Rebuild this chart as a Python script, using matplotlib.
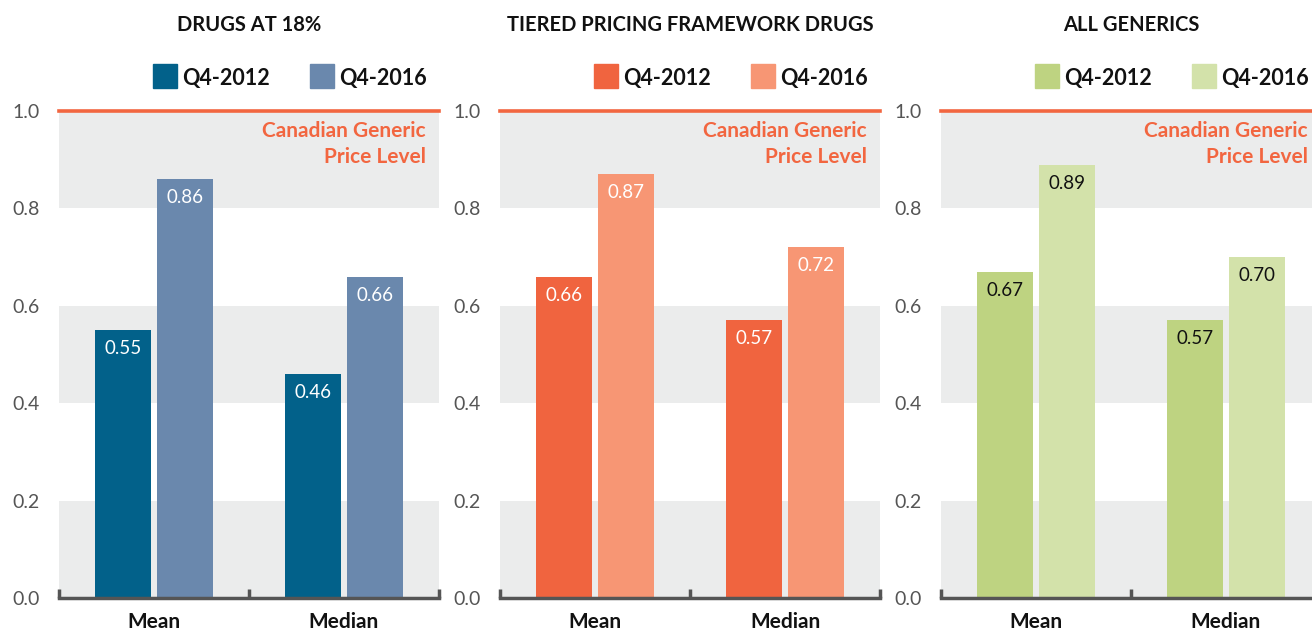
import matplotlib
matplotlib.use("Agg")
import matplotlib.pyplot as plt
from matplotlib.patches import Rectangle
import numpy as np

plt.rcParams['font.family'] = ['Lato', 'DejaVu Sans']

titles = ["DRUGS AT 18%", "TIERED PRICING FRAMEWORK DRUGS", "ALL GENERICS"]
categories = ["Mean", "Median"]
series_names = ["Q4-2012", "Q4-2016"]
drugs18_2012 = [0.55, 0.46]
drugs18_2016 = [0.86, 0.66]
tiered_2012 = [0.66, 0.57]
tiered_2016 = [0.87, 0.72]
generics_2012 = [0.67, 0.57]
generics_2016 = [0.89, 0.70]
value_labels = [
    (["0.55", "0.46"], ["0.86", "0.66"]),
    (["0.66", "0.57"], ["0.87", "0.72"]),
    (["0.67", "0.57"], ["0.89", "0.70"]),
]
yticks = [0.0, 0.2, 0.4, 0.6, 0.8, 1.0]
ytick_labels = ["0.0", "0.2", "0.4", "0.6", "0.8", "1.0"]
reference_label = "Canadian Generic\nPrice Level"
reference_value = 1.0

panels = [(drugs18_2012, drugs18_2016), (tiered_2012, tiered_2016), (generics_2012, generics_2016)]
colors = [("#02618A", "#6A88AD"), ("#F0643F", "#F79674"), ("#BED381", "#D3E2AA")]
label_colors = [("white", "white"), ("white", "white"), ("#111111", "#111111")]

W, H = 1312, 630
fig = plt.figure(figsize=(W / 100, H / 100), dpi=100)
lefts = [59, 500, 941]
axw = 380
bottom_px, top_px = 598, 111
axh = bottom_px - top_px

band_color = "#EBECEC"
ref_color = "#F26640"
x = np.arange(len(categories))
bw = 0.295
off = 0.163

for i, (ax_left) in enumerate(lefts):
    ax = fig.add_axes([ax_left / W, 1 - bottom_px / H, axw / W, axh / H])
    ax.set_xlim(-0.5, 1.5)
    ax.set_ylim(0, 1.0)
    for lo in [0.0, 0.4, 0.8]:
        ax.axhspan(lo, lo + 0.2, color=band_color, zorder=0, lw=0)
    a, b = panels[i]
    c1, c2 = colors[i]
    ax.bar(x - off, a, bw, color=c1, zorder=2)
    ax.bar(x + off, b, bw, color=c2, zorder=2)
    l1, l2 = value_labels[i]
    lc1, lc2 = label_colors[i]
    for xi, v, t in zip(x - off, a, l1):
        ax.text(xi, v - 0.038, t, ha="center", va="center", color=lc1, fontsize=13.5, zorder=3)
    for xi, v, t in zip(x + off, b, l2):
        ax.text(xi, v - 0.038, t, ha="center", va="center", color=lc2, fontsize=13.5, zorder=3)
    ax.axhline(reference_value, color=ref_color, lw=2.6, zorder=3, clip_on=False)
    ax.text(1 - 13 / axw, 1 - 131 / axh + 111 / axh, "Canadian Generic", transform=ax.transAxes,
            ha="right", va="center", color=ref_color, fontsize=15, fontweight="bold")
    ax.text(1 - 13 / axw, 1 - 157 / axh + 111 / axh, "Price Level", transform=ax.transAxes,
            ha="right", va="center", color=ref_color, fontsize=15, fontweight="bold")
    for s in ["top", "right", "left"]:
        ax.spines[s].set_visible(False)
    ax.spines["bottom"].set_color("#555555")
    ax.spines["bottom"].set_linewidth(2.5)
    ax.spines["bottom"].set_zorder(4)
    ax.set_yticks(yticks)
    ax.set_yticklabels(ytick_labels, color="#555555", fontsize=14)
    ax.tick_params(axis="y", length=0, pad=14)
    ax.set_xticks(x)
    ax.set_xticklabels(categories, fontsize=15, fontweight="bold", color="#111111")
    ax.tick_params(axis="x", length=0, pad=10)
    for bx in [-0.5, 0.5, 1.5]:
        ax.plot([bx, bx], [0, 0.018], color="#555555", lw=2.5, clip_on=False, zorder=4,
                solid_capstyle="butt")
    # title
    ax.text(0.5, (bottom_px - 25) / axh, titles[i], transform=ax.transAxes,
            ha="center", va="center", fontsize=14.5, fontweight="bold", color="#111111")
    # legend
    ly = (bottom_px - 78) / axh
    sq_w = 24 / axw
    sq_h = 24 / axh
    for (sx, name, col) in [(153, series_names[0], c1), (310, series_names[1], c2)]:
        fx = (sx - 59) / axw
        ax.add_patch(Rectangle((fx, (bottom_px - 76) / axh - sq_h / 2), sq_w, sq_h,
                               transform=ax.transAxes, color=col, clip_on=False))
        ax.text(fx + 29 / axw, ly, name, transform=ax.transAxes, ha="left", va="center",
                fontsize=15.5, fontweight="bold", color="#111111")

fig.savefig("out.png", dpi=100)
